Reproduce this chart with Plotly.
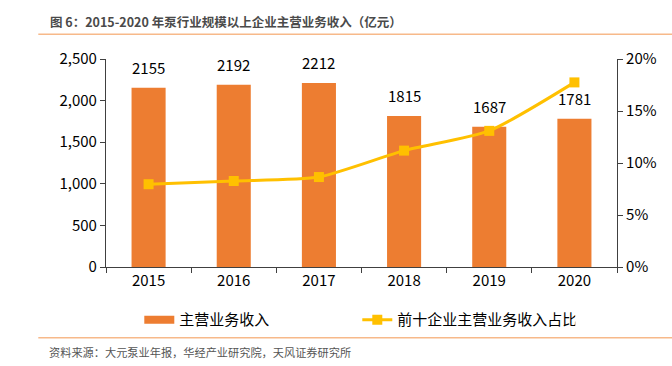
import plotly.graph_objects as go

years = ["2015", "2016", "2017", "2018", "2019", "2020"]
revenue = [2155, 2192, 2212, 1815, 1687, 1781]
top10_share = [0.0796, 0.0827, 0.0865, 0.1119, 0.1309, 0.1775]

W, H = 672, 366
L, R, T, B = 105.7, 616.7, 59.0, 266.7

def px_x(p):
    return (p - L) / (R - L)

def px_y(p):
    return (B - p) / (B - T)

FONT = "Noto Sans CJK SC"
AX = "#404040"
BAR_C = "#ED7D31"
LINE_C = "#FFC000"

fig = go.Figure()
fig.add_trace(go.Bar(
    x=years, y=revenue, name="主营业务收入", legendgroup="rev", showlegend=False,
    marker=dict(color=BAR_C, line=dict(width=0)),
    width=0.4, yaxis="y",
))
# legend swatch for the bars (wide rectangle, as in the reference)
fig.add_trace(go.Scatter(
    x=[None], y=[None], name="主营业务收入", legendgroup="rev", mode="lines",
    line=dict(color=BAR_C, width=8), yaxis="y", hoverinfo="skip",
))
fig.add_trace(go.Scatter(
    x=years, y=top10_share, name="前十企业主营业务收入占比",
    mode="lines+markers", yaxis="y2",
    line=dict(color=LINE_C, width=3, shape="spline", smoothing=0.6),
    marker=dict(symbol="square", size=10, color=LINE_C),
))

annotations = []
for i, v in enumerate(revenue):
    annotations.append(dict(
        x=i, y=v, xref="x", yref="y", text=str(v), showarrow=False,
        yanchor="middle", yshift=20, font=dict(size=15, color="#000", family=FONT),
    ))
annotations.append(dict(
    x=px_x(48), y=px_y(21.5), xref="paper", yref="paper", xanchor="left", yanchor="middle",
    text="<b>图 6：2015-2020 年泵行业规模以上企业主营业务收入（亿元）</b>", showarrow=False,
    font=dict(size=12.5, color="#4a4a4a", family=FONT),
))
annotations.append(dict(
    x=px_x(47), y=px_y(352), xref="paper", yref="paper", xanchor="left", yanchor="middle",
    text="资料来源：大元泵业年报，华经产业研究院，天风证券研究所", showarrow=False,
    font=dict(size=11.2, color="#555", family=FONT),
))

shapes = [
    dict(type="line", xref="paper", yref="paper", x0=px_x(38), x1=px_x(672),
         y0=px_y(34.3), y1=px_y(34.3), line=dict(color="#F7B98A", width=1.6)),
    dict(type="line", xref="paper", yref="paper", x0=px_x(38), x1=px_x(672),
         y0=px_y(337.3), y1=px_y(337.3), line=dict(color="#F7B98A", width=1.6)),
]

fig.update_layout(
    width=W, height=H,
    margin=dict(l=L, r=W - R, t=T, b=H - B, pad=0, autoexpand=False),
    paper_bgcolor="white", plot_bgcolor="white",
    font=dict(family=FONT, size=15, color="#000"),
    showlegend=True,
    legend=dict(orientation="h", x=px_x(139), y=px_y(319.5), xanchor="left", yanchor="middle",
                font=dict(size=15, family=FONT, color="#000"), entrywidth=173, entrywidthmode="pixels",
                itemwidth=30, bgcolor="rgba(0,0,0,0)", traceorder="normal"),
    bargap=0.6,
    xaxis=dict(type="category", categoryorder="array", categoryarray=years, range=[-0.5, 5.5],
               autorange=False, showline=True, linecolor=AX, linewidth=1.2, ticks="outside", ticklen=5,
               tickcolor=AX, tickson="boundaries", showgrid=False, automargin=False, tickangle=0,
               tickfont=dict(size=15, family=FONT, color="#000")),
    yaxis=dict(range=[0, 2500], dtick=500, tickformat=",", showline=True, linecolor=AX,
               linewidth=1.2, ticks="outside", ticklen=5, tickcolor=AX, showgrid=False,
               zeroline=False, automargin=False, tickfont=dict(size=15, family=FONT, color="#000")),
    yaxis2=dict(range=[0, 0.2], dtick=0.05, tickformat=".0%", overlaying="y", side="right",
                showline=True, linecolor=AX, linewidth=1.2, ticks="outside", ticklen=5,
                tickcolor=AX, showgrid=False, zeroline=False, automargin=False,
                tickfont=dict(size=15, family=FONT, color="#000")),
    annotations=annotations,
    shapes=shapes,
)

fig.write_html("out.html", config={"displayModeBar": False},
               post_script="document.body.style.margin='0px';document.body.style.overflow='hidden';")
